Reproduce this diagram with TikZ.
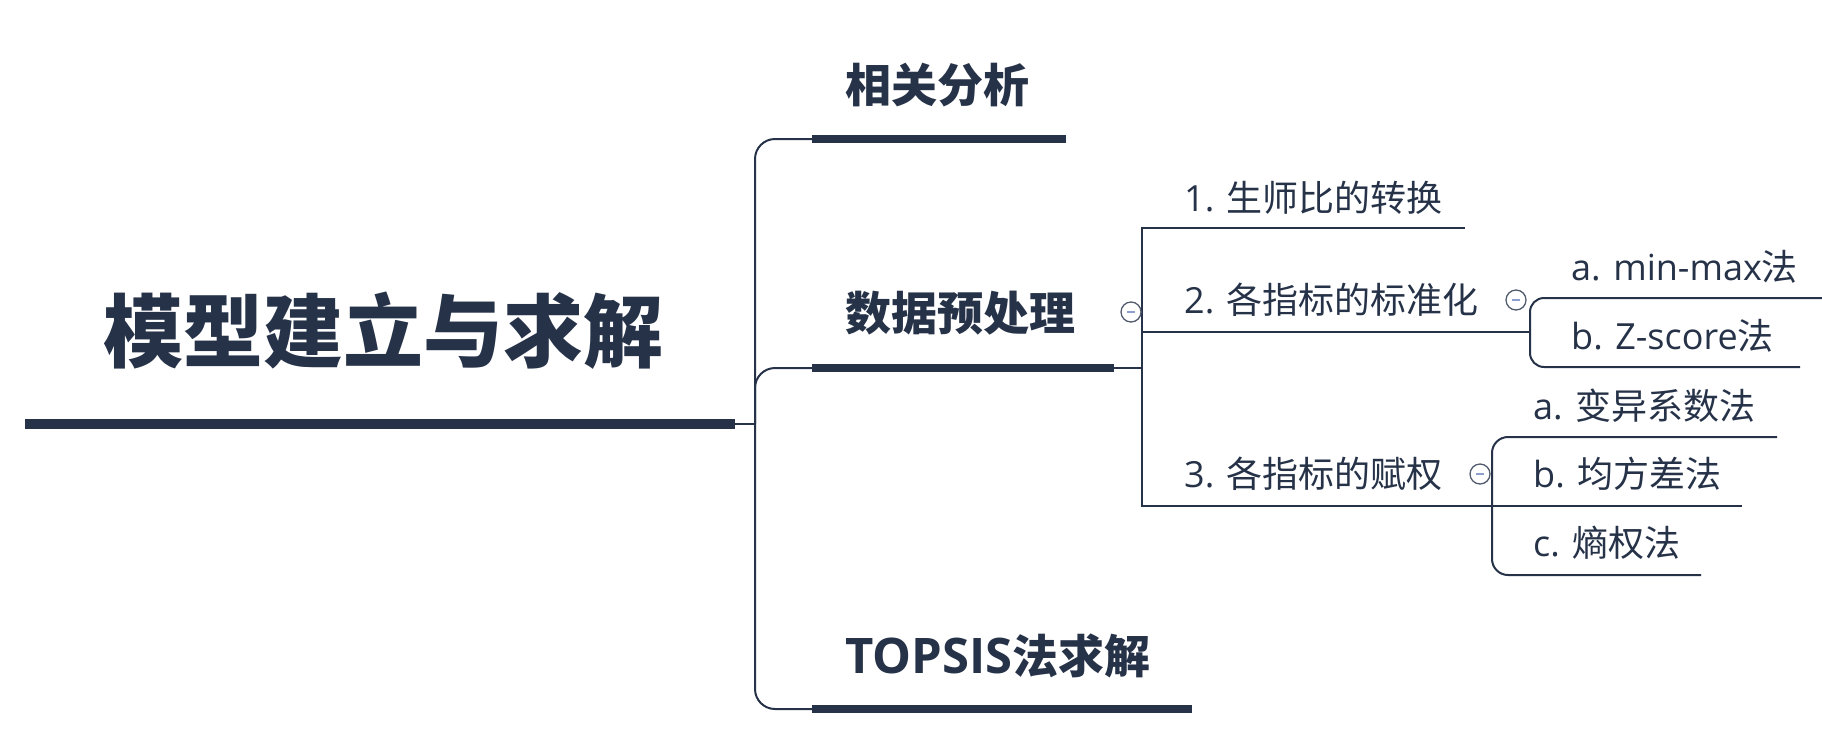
\documentclass[tikz,border=0pt]{standalone}
\usepackage{fontspec}
\setmainfont{Open Sans}
\newfontfamily\cjk{Noto Sans CJK SC}
\definecolor{navy}{RGB}{38,50,72}
\definecolor{minusc}{RGB}{140,160,205}
\begin{document}
\begin{tikzpicture}[x=1pt,y=-1pt,
  conn/.style={draw=navy, line width=2pt},
  bigbar/.style={draw=navy, line width=10pt},
  midbar/.style={draw=navy, line width=8pt},
  titletext/.style={anchor=west, inner sep=0pt, text=navy, font=\fontsize{80}{90}\selectfont\bfseries\cjk},
  lvlone/.style={anchor=west, inner sep=0pt, text=navy, font=\fontsize{46}{52}\selectfont\bfseries},
  lvltwo/.style={anchor=west, inner sep=0pt, text=navy, font=\fontsize{36}{40}\selectfont},
  collapse/.style={circle, draw=navy!80, line width=1.3pt, minimum size=20pt, inner sep=0pt, fill=white,
    path picture={\draw[minusc, line width=1.6pt] ([xshift=-4pt]path picture bounding box.center) -- ([xshift=4pt]path picture bounding box.center);}}
]
\useasboundingbox (0,0) rectangle (1822,740);

% coordinates
\coordinate (m0) at (25,424);
\coordinate (root) at (735,424);
\coordinate (J0) at (755,424);
\coordinate (b1s) at (812,139);  \coordinate (b1e) at (1066,139);
\coordinate (b2s) at (812,368);  \coordinate (b2e) at (1114,368);
\coordinate (b3s) at (812,709);  \coordinate (b3e) at (1192,709);
\coordinate (J1) at (1142,368);
\coordinate (l1e) at (1465,228);
\coordinate (J2) at (1530,332);
\coordinate (J3) at (1492,506);
\coordinate (u1e) at (1822,298);
\coordinate (u2e) at (1800,367);
\coordinate (v1e) at (1777,437);
\coordinate (v2e) at (1742,506);
\coordinate (v3e) at (1701,575);

% main bar
\draw[bigbar] (m0) -- (root);
\draw[conn] (root) -- (J0);

% level 1 connectors
\draw[conn, rounded corners=20pt] (J0) |- (b1s);
\draw[conn, rounded corners=20pt] (J0) |- (b2s);
\draw[conn, rounded corners=20pt] (J0) |- (b3s);
\draw[midbar] (b1s) -- (b1e);
\draw[midbar] (b2s) -- (b2e);
\draw[midbar] (b3s) -- (b3e);

% level 2
\draw[conn] (b2e) -- (J1);
\draw[conn] (J1) |- (l1e);
\draw[conn] (J1) |- (J2);
\draw[conn] (J1) |- (J3);

% level 3
\draw[conn, rounded corners=14pt] (J2) |- (u1e);
\draw[conn, rounded corners=14pt] (J2) |- (u2e);
\draw[conn, rounded corners=16pt] (J3) |- (v1e);
\draw[conn] (J3) -- (v2e);
\draw[conn, rounded corners=16pt] (J3) |- (v3e);

% texts
\node[titletext] (title) at (103,331) {模型建立与求解};
\node[lvlone] (t1) at (845,85) {\cjk 相关分析};
\node[lvlone] (t2) at (845,313) {\cjk 数据预处理};
\node[lvlone] (t3) at (845,656) {{\fontsize{49}{52}\selectfont TOPSIS}{\cjk 法求解}};
\node[lvltwo] (s1) at (1184,198) {1. {\cjk 生师比的转换}};
\node[lvltwo] (s2) at (1184,300) {2. {\cjk 各指标的标准化}};
\node[lvltwo] (s3) at (1184,474) {3. {\cjk 各指标的赋权}};
\node[lvltwo] (u1) at (1571,267) {a. min-max{\cjk 法}};
\node[lvltwo] (u2) at (1571,336) {b. Z-score{\cjk 法}};
\node[lvltwo] (v1) at (1533,406) {a. {\cjk 变异系数法}};
\node[lvltwo] (v2) at (1533,474) {b. {\cjk 均方差法}};
\node[lvltwo] (v3) at (1533,543) {c. {\cjk 熵权法}};

% collapse markers
\node[collapse] (c1) at (1131,312) {};
\node[collapse] (c2) at (1516,300) {};
\node[collapse] (c3) at (1480,474) {};
\end{tikzpicture}
\end{document}
